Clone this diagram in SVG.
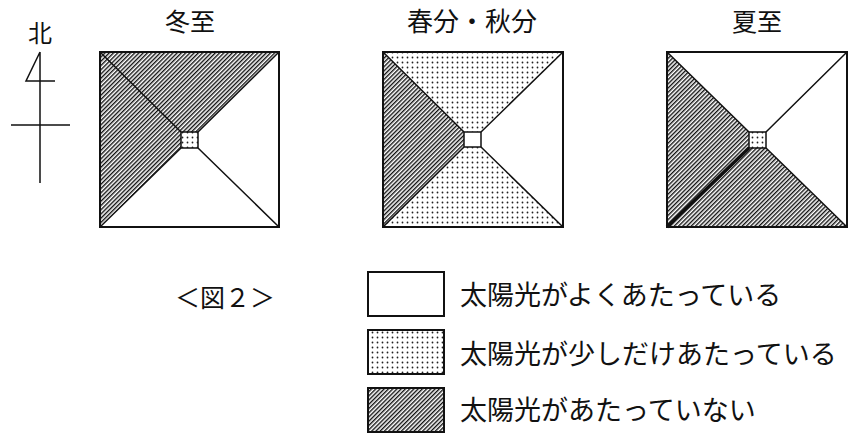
<svg xmlns="http://www.w3.org/2000/svg" width="861" height="436" viewBox="0 0 861 436">
<style>
.t{font-family:"Noto Sans CJK JP","Noto Sans CJK SC",sans-serif;fill:#111}
.ln{stroke:#111;stroke-width:1.5;fill:none}
.ol{stroke:#111;stroke-width:2;fill:none}
.h{fill:url(#hatch)}
.d{fill:url(#dots)}
.w{fill:#fff}
</style>
<defs>
<pattern id="hatch" patternUnits="userSpaceOnUse" width="3" height="3" patternTransform="rotate(45)">
<rect width="3" height="3" fill="#fff"/>
<line x1="0.7" y1="0" x2="0.7" y2="3" stroke="#111" stroke-width="1.4"/>
</pattern>
<pattern id="dots" patternUnits="userSpaceOnUse" width="5" height="5">
<rect width="5" height="5" fill="#fff"/>
<circle cx="2.5" cy="2.5" r="0.9" fill="#222"/>
</pattern>
</defs>
<rect width="861" height="436" fill="#fff"/>

<g id="compass">
<text class="t" x="40" y="42" font-size="24" text-anchor="middle">北</text>
<path class="ln" d="M40,52 L40,183 M11,125 L70,125 M40,52 L26,81 L55,81"/>
</g>

<g id="winter">
<text class="t" x="190" y="31" font-size="25" text-anchor="middle">冬至</text>
<polygon class="h" points="100,52 279,52 198,132 181,132"/>
<polygon class="h" points="100,52 181,132 181,148 100,227"/>
<polygon class="w" points="100,227 181,148 198,148 279,227"/>
<polygon class="w" points="279,52 198,132 198,148 279,227"/>
<rect class="d" x="181" y="132" width="17" height="16"/>
<path class="ln" d="M100,52 L181,132 M279,52 L198,132 M100,227 L181,148 M279,227 L198,148"/>
<rect class="ln" x="181" y="132" width="17" height="16"/>
<rect class="ol" x="100" y="52" width="179" height="175"/>
</g>

<g id="equinox">
<text class="t" x="472" y="31" font-size="26" text-anchor="middle">春分・秋分</text>
<polygon class="d" points="383,52 563,52 481,132 464,132"/>
<polygon class="h" points="383,52 464,132 464,147 383,227"/>
<polygon class="d" points="383,227 464,147 481,147 563,227"/>
<polygon class="w" points="563,52 481,132 481,147 563,227"/>
<rect class="w" x="464" y="132" width="17" height="15"/>
<path class="ln" d="M383,52 L464,132 M563,52 L481,132 M383,227 L464,147 M563,227 L481,147"/>
<rect class="ln" x="464" y="132" width="17" height="15"/>
<rect class="ol" x="383" y="52" width="180" height="175"/>
</g>

<g id="summer">
<text class="t" x="757" y="31" font-size="25" text-anchor="middle">夏至</text>
<polygon class="w" points="667,52 847,52 766,132 749,132"/>
<polygon class="h" points="667,52 749,132 749,148 667,227"/>
<polygon class="h" points="667,227 749,148 766,148 847,227"/>
<polygon class="w" points="847,52 766,132 766,148 847,227"/>
<rect class="d" x="749" y="132" width="17" height="16"/>
<path class="ln" d="M667,52 L749,132 M847,52 L766,132 M847,227 L766,148"/>
<path stroke="#111" stroke-width="3.5" fill="none" d="M667,227 L749,148"/>
<rect class="ln" x="749" y="132" width="17" height="16"/>
<rect class="ol" x="667" y="52" width="180" height="175"/>
</g>

<g id="caption">
<text class="t" x="175" y="307" font-size="25">＜図２＞</text>
</g>

<g id="legend-sunny">
<rect class="w" x="368" y="272" width="76" height="44" stroke="#111" stroke-width="2"/>
<text class="t" x="460" y="305" font-size="27">太陽光がよくあたっている</text>
</g>
<g id="legend-some">
<rect class="d" x="368" y="330" width="76" height="44" stroke="#111" stroke-width="2"/>
<text class="t" x="460" y="364" font-size="27">太陽光が少しだけあたっている</text>
</g>
<g id="legend-none">
<rect class="h" x="368" y="388" width="76" height="44" stroke="#111" stroke-width="2"/>
<text class="t" x="460" y="420" font-size="27">太陽光があたっていない</text>
</g>

<g id="connectors"></g>
</svg>
